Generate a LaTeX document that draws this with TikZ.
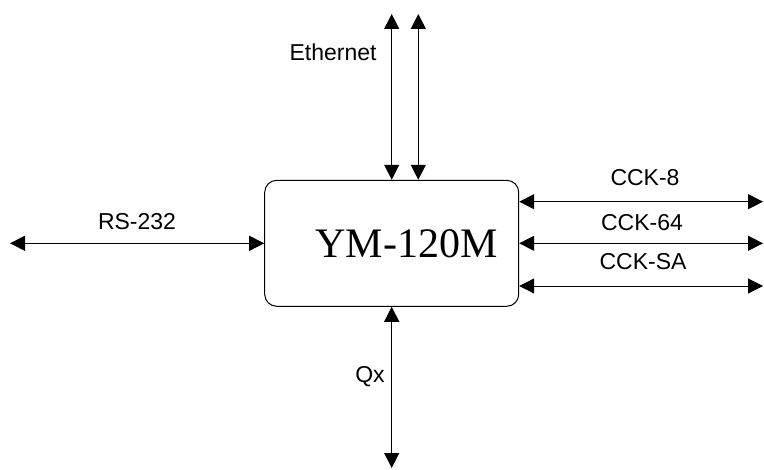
\documentclass[tikz,border=0pt]{standalone}
\usepackage{fontspec}
\setmainfont{Liberation Serif}
\setsansfont{Liberation Sans}
\usetikzlibrary{arrows.meta}

\begin{document}
\begin{tikzpicture}[
  x=0.5pt, y=-0.5pt,
  line width=0.5pt,
  >={Triangle[length=7.5pt,width=7.5pt]},
  unit/.style={draw,rounded corners=6pt,minimum width=127pt,minimum height=63pt,inner sep=0pt},
  port/.style={font=\sffamily\fontsize{11.5pt}{13pt}\selectfont,inner sep=0pt}]
  \useasboundingbox (0,0) rectangle (764,470);
  \node[unit] (ym) at (391.7,243.3) {};
  \node[font=\fontsize{21pt}{24pt}\selectfont,inner sep=0pt] (title) at (406.5,244) {YM-120M};
  % links
  \coordinate (eth1) at (391.7,14);
  \coordinate (eth2) at (418.3,14);
  \coordinate (qx) at (391.7,468);
  \coordinate (rs) at (10,243.3);
  \coordinate (cck8) at (763,201.7);
  \coordinate (cck64) at (763,243.3);
  \coordinate (cckSA) at (763,286);
  \draw[<->] (eth1) -- (eth1 |- ym.north);
  \draw[<->] (eth2) -- (eth2 |- ym.north);
  \draw[<->] (ym.south) -- (qx);
  \draw[<->] (rs) -- (ym.west);
  \draw[<->] (cck8 -| ym.east) -- (cck8);
  \draw[<->] (cck64 -| ym.east) -- (cck64);
  \draw[<->] (cckSA -| ym.east) -- (cckSA);
  % labels
  \node[port] (ethL) at (333,52) {Ethernet};
  \node[port] (qxL) at (370,377) {Qx};
  \node[port] (rsL) at (137,222) {RS-232};
  \node[port] (cck8L) at (645,178) {CCK-8};
  \node[port] (cck64L) at (642,223) {CCK-64};
  \node[port] (cckSAL) at (643,262) {CCK-SA};
\end{tikzpicture}
\end{document}
